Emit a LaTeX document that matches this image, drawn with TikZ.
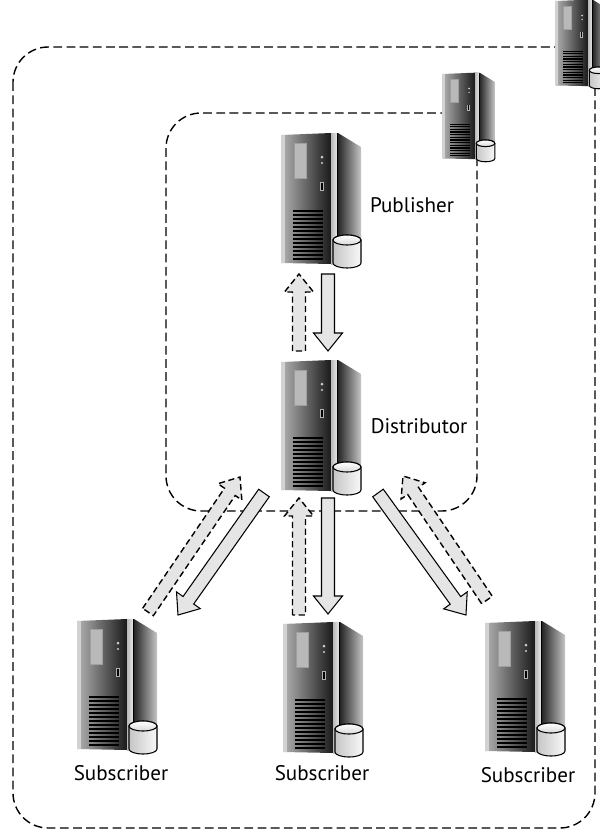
\documentclass[tikz,border=0pt]{standalone}
\usepackage{fontspec}
\setmainfont{PT Sans}
\usetikzlibrary{calc}

\tikzset{
  server/.pic={
    \shade[left color=black!85, right color=gray!45] (5.7,0.2) -- (8.0,-1.2) -- (8.0,-12.2) -- (5.7,-12.9) -- cycle;
    \shade[left color=gray!60, right color=black!90] (0,0) -- (5.0,0.2) -- (5.0,-12.9) -- (0,-12.8) -- cycle;
    \fill[gray!35] (0,0) rectangle (0.4,-12.8);
    \shade[left color=gray!55, right color=gray!20] (5.0,0.2) rectangle (5.6,-12.9);
    \fill[black] (5.6,0.2) rectangle (5.7,-12.9);
    \fill[gray!75] (1.25,-0.75) rectangle (2.55,-4.35);
    \fill[gray!55] (1.35,-0.85) rectangle (2.45,-4.25);
    \fill[gray!40] (4.1,-2.2) circle (0.15) (4.1,-2.8) circle (0.12);
    \fill[gray!60] (3.85,-4.65) rectangle (4.25,-5.55);
    \fill[black] (3.95,-4.75) rectangle (4.15,-5.45);
    \foreach \v in {0,...,12}
      \fill[black] (1.2,-7.5-0.4*\v) rectangle (4.2,-7.7-0.4*\v);
    \shadedraw[left color=gray!45, right color=gray!5, line width=0.6pt] (5.2,-10.5) -- (5.2,-12.8) arc[start angle=180, end angle=360, x radius=1.4, y radius=0.5] -- (8.0,-10.5) arc[start angle=0, end angle=180, x radius=1.4, y radius=0.5] -- cycle;
    \shadedraw[top color=white, bottom color=gray!30, line width=0.6pt] (6.6,-10.5) ellipse [x radius=1.4, y radius=0.5];
  }
}

\newcommand\flowarrow[3]{%
  \coordinate (fa-base) at ($(#3)!1.8cm!(#2)$);
  \draw[#1] ($(#2)!0.65cm!90:(#3)$) -- ($(fa-base)!0.65cm!-90:(#2)$) -- ($(fa-base)!1.45cm!-90:(#2)$) -- (#3)
    -- ($(fa-base)!1.45cm!90:(#2)$) -- ($(fa-base)!0.65cm!90:(#2)$) -- ($(#2)!0.65cm!-90:(#3)$) -- cycle;
}

\begin{document}
\begin{tikzpicture}[scale=0.2, every pic/.style={scale=0.2},
  zone/.style={dash pattern=on 5pt off 2.5pt, line width=0.8pt, rounded corners=20pt},
  pushflow/.style={draw=black, fill=gray!20, line width=0.6pt, line join=miter},
  pullflow/.style={pushflow, line width=0.8pt, dash pattern=on 3.5pt off 2pt},
  srvlabel/.style={font=\fontsize{12}{14}\selectfont, inner sep=0pt}]
\useasboundingbox (0,0) rectangle (60,-83.2);
\draw[zone] (1.3,-4.7) rectangle (59.5,-82.8);
\draw[zone] (16.6,-11.3) rectangle (47.7,-51.1);
\pic (pub) at (28.1,-13.5) {server};
\pic (dist) at (28.1,-36.2) {server};
\pic (subl) at (7.7,-62.1) {server};
\pic (subm) at (28.3,-62.4) {server};
\pic (subr) at (48.5,-62.3) {server};
\pic[scale=0.66] (edge) at (44.2,-7.4) {server};
\pic[scale=0.66] (remote) at (55.5,-0.1) {server};
\coordinate (pub-dn-s) at (32.8,-27.4);
\coordinate (pub-dn-t) at (32.8,-35.1);
\coordinate (pub-up-s) at (29.9,-35.1);
\coordinate (pub-up-t) at (29.9,-27.4);
\coordinate (subl-dn-s) at (26.4,-49.3);
\coordinate (subl-dn-t) at (17.8,-61.5);
\coordinate (subl-up-s) at (14.8,-61.2);
\coordinate (subl-up-t) at (24.0,-47.7);
\coordinate (subm-dn-s) at (32.8,-49.8);
\coordinate (subm-dn-t) at (32.8,-61.4);
\coordinate (subm-up-s) at (29.9,-61.5);
\coordinate (subm-up-t) at (29.9,-49.8);
\coordinate (subr-dn-s) at (37.8,-49.3);
\coordinate (subr-dn-t) at (46.6,-61.5);
\coordinate (subr-up-s) at (48.7,-60.0);
\coordinate (subr-up-t) at (40.3,-47.6);
\flowarrow{pushflow}{pub-dn-s}{pub-dn-t}
\flowarrow{pullflow}{pub-up-s}{pub-up-t}
\flowarrow{pushflow}{subl-dn-s}{subl-dn-t}
\flowarrow{pullflow}{subl-up-s}{subl-up-t}
\flowarrow{pushflow}{subm-dn-s}{subm-dn-t}
\flowarrow{pullflow}{subm-up-s}{subm-up-t}
\flowarrow{pushflow}{subr-dn-s}{subr-dn-t}
\flowarrow{pullflow}{subr-up-s}{subr-up-t}
\node[srvlabel] (publbl) at (41.2,-20.5) {Publisher};
\node[srvlabel] (distlbl) at (41.9,-42.6) {Distributor};
\node[srvlabel] (sublbl) at (12.1,-77.35) {Subscriber};
\node[srvlabel] (submlbl) at (32.2,-77.3) {Subscriber};
\node[srvlabel] (subrlbl) at (52.8,-77.5) {Subscriber};
\end{tikzpicture}
\end{document}
